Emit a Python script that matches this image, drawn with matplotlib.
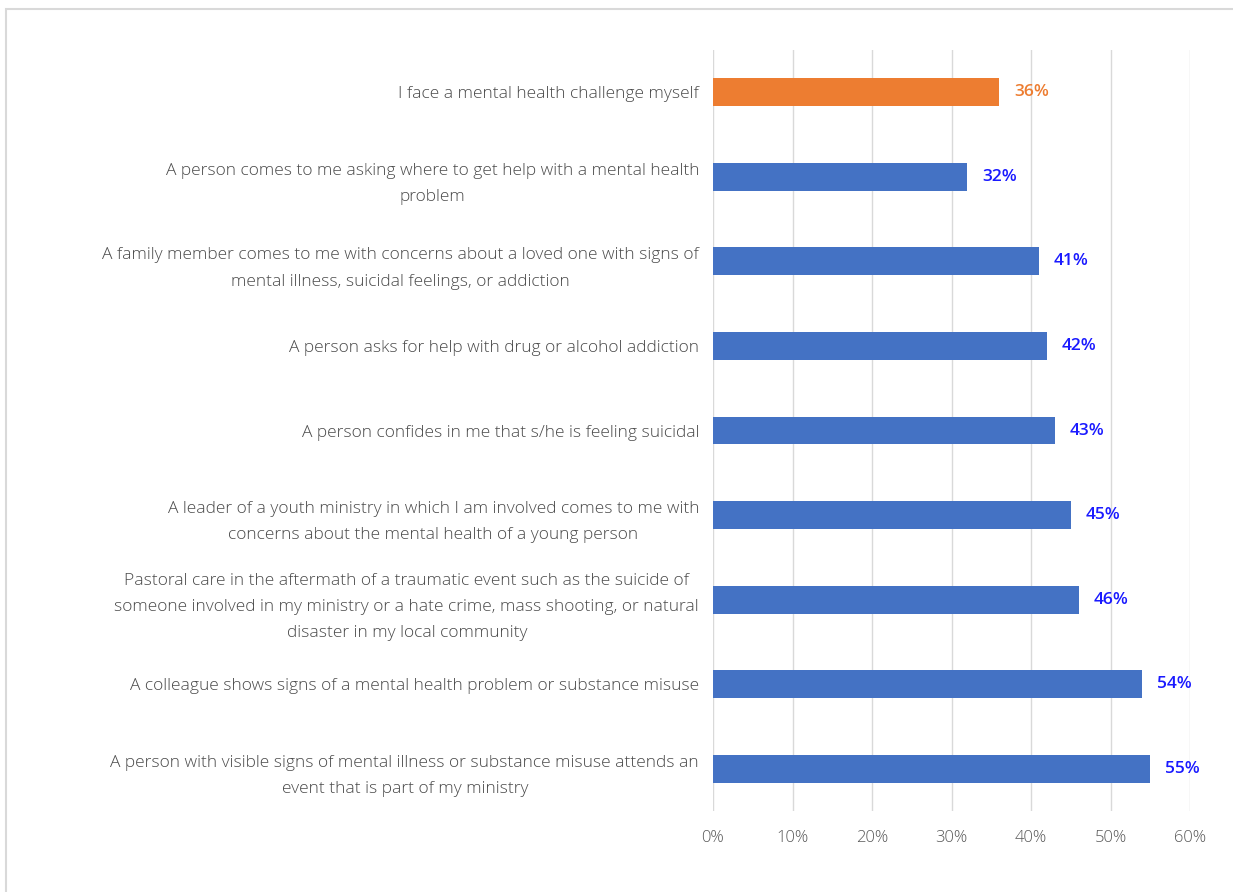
import matplotlib.pyplot as plt
from matplotlib.patches import Rectangle

categories = [
    'I face a mental health challenge myself',
    'A person comes to me asking where to get help with a mental health\nproblem',
    'A family member comes to me with concerns about a loved one with signs of\nmental illness, suicidal feelings, or addiction',
    'A person asks for help with drug or alcohol addiction',
    'A person confides in me that s/he is feeling suicidal',
    'A leader of a youth ministry in which I am involved comes to me with\nconcerns about the mental health of a young person',
    'Pastoral care in the aftermath of a traumatic event such as the suicide of\nsomeone involved in my ministry or a hate crime, mass shooting, or natural\ndisaster in my local community',
    'A colleague shows signs of a mental health problem or substance misuse',
    'A person with visible signs of mental illness or substance misuse attends an\nevent that is part of my ministry',
]
values = [36, 32, 41, 42, 43, 45, 46, 54, 55]
highlight = [True, False, False, False, False, False, False, False, False]
xticks = [0, 10, 20, 30, 40, 50, 60]

plt.rcParams['font.family'] = ['Open Sans', 'DejaVu Sans']

fig = plt.figure(figsize=(12.33, 8.92), dpi=100)
ax = fig.add_axes([713 / 1233, 1 - 811 / 892, (1190 - 713) / 1233, (811 - 50) / 892])

# border of the chart area
fig.patches.append(Rectangle((6 / 1233, -0.1), 1.2, 1 - 9 / 892 + 0.1, transform=fig.transFigure,
                             fill=False, edgecolor='#D9D9D9', linewidth=1.5))

ypos = list(range(len(values)))
colors = ['#ED7D31' if h else '#4472C4' for h in highlight]
ax.barh(ypos, values, height=0.33, color=colors, zorder=3)

for y, v, h in zip(ypos, values, highlight):
    ax.text(v + 1.9, y, f'{v}%', va='center', ha='left', fontsize=12.5,
            fontweight='semibold', color='#ED7D31' if h else '#1A1AFF')

ax.set_yticks(ypos)
ax.set_yticklabels(categories, fontsize=12.5, color='#4A4A4A', multialignment='center',
                   linespacing=1.85, fontweight='light')
ax.tick_params(axis='y', length=0, pad=10)
ax.set_ylim(len(values) - 0.5, -0.5)

ax.set_xlim(0, 60)
ax.set_xticks(xticks)
ax.set_xticklabels([f'{t}%' for t in xticks], fontsize=12, color='#595959', fontweight='light')
ax.tick_params(axis='x', length=0, pad=14)
ax.grid(axis='x', color='#D9D9D9', linewidth=1, zorder=0)
for s in ax.spines.values():
    s.set_visible(False)

plt.savefig('out.png', dpi=100)
